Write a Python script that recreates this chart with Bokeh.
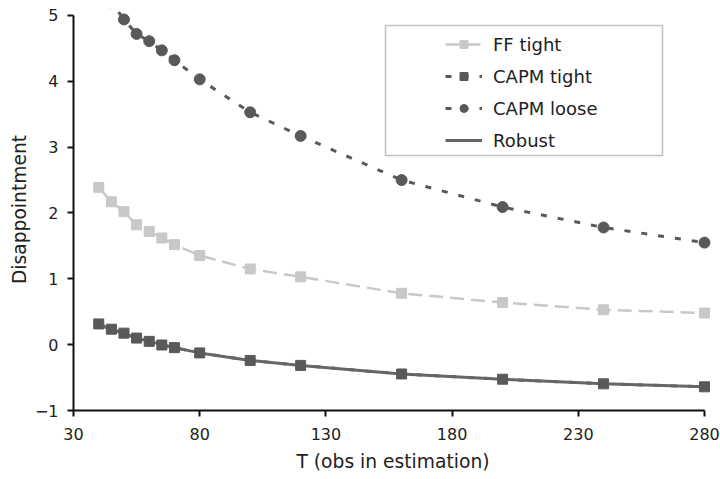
from bokeh.plotting import figure
from bokeh.models import Range1d, FixedTicker, Legend, LegendItem, BoxAnnotation
from bokeh.embed import file_html
from bokeh.resources import INLINE

# ---- data ----
T = [40, 45, 50, 55, 60, 65, 70, 80, 100, 120, 160, 200, 240, 280]
ff_tight = [2.39, 2.17, 2.02, 1.82, 1.72, 1.62, 1.52, 1.355, 1.15, 1.03, 0.78, 0.64, 0.53, 0.48]
capm_tight = [0.315, 0.235, 0.175, 0.10, 0.05, -0.005, -0.045, -0.125, -0.24, -0.315, -0.445, -0.525, -0.595, -0.64]
capm_loose = [5.47, 5.2, 4.94, 4.72, 4.61, 4.47, 4.32, 4.03, 3.53, 3.17, 2.50, 2.09, 1.78, 1.55]
robust = [0.31, 0.23, 0.17, 0.10, 0.05, 0.0, -0.045, -0.125, -0.24, -0.315, -0.445, -0.525, -0.595, -0.64]
x_ticks = [30, 80, 130, 180, 230, 280]
y_ticks = [-1, 0, 1, 2, 3, 4, 5]
series_names = ["FF tight", "CAPM tight", "CAPM loose", "Robust"]

FONT = "DejaVu Sans"
LIGHT = "#c8c8c8"
DARK = "#595959"
ROB = "#666666"
TXT = "#222222"

p = figure(width=720, height=479, x_range=Range1d(30, 283.17), y_range=Range1d(-1, 5.106),
           output_backend="svg", toolbar_location=None,
           min_border_left=73, min_border_right=8, min_border_top=8, min_border_bottom=69)
p.outline_line_color = None
p.xgrid.visible = False
p.ygrid.visible = False
p.background_fill_color = "white"
p.border_fill_color = "white"

for ax in (p.xaxis[0], p.yaxis[0]):
    ax.axis_line_color = "#111111"
    ax.axis_line_width = 2
    ax.major_tick_line_color = "#111111"
    ax.major_tick_line_width = 2
    ax.major_tick_out = 6
    ax.major_tick_in = 0
    ax.minor_tick_line_color = None
    ax.major_label_text_font = FONT
    ax.major_label_text_font_size = "16px"
    ax.major_label_text_color = TXT
    ax.axis_label_text_font = FONT
    ax.axis_label_text_font_size = "18.7px"
    ax.axis_label_text_font_style = "normal"
    ax.axis_label_text_color = TXT

p.xaxis.ticker = FixedTicker(ticks=x_ticks)
p.yaxis.ticker = FixedTicker(ticks=y_ticks)
p.xaxis.bounds = (x_ticks[0], x_ticks[-1])
p.yaxis.bounds = (y_ticks[0], y_ticks[-1])
p.yaxis.major_label_overrides = {-1: "\u22121"}
p.xaxis.major_label_standoff = 11
p.yaxis.major_label_standoff = 9
p.xaxis.axis_label_standoff = 8
p.yaxis.axis_label_standoff = 2
p.xaxis.axis_label = "T (obs in estimation)"
p.yaxis.axis_label = "Disappointment"

# ---- series ----
ff_line = p.line(T, ff_tight, line_color=LIGHT, line_width=2.5, line_dash="14 7")
ff_sq = p.scatter(T, ff_tight, marker="square", size=10, fill_color=LIGHT, line_color=LIGHT)

cl_line = p.line(T, capm_loose, line_color=DARK, line_width=3, line_dash="6 11")
cl_pt = p.scatter(T, capm_loose, marker="circle", size=11, fill_color=DARK, line_color=DARK)

ct_line = p.line(T, capm_tight, line_color=DARK, line_width=3, line_dash="6 11")
rb_line = p.line(T, robust, line_color=ROB, line_width=3)
ct_sq = p.scatter(T, capm_tight, marker="square", size=10, fill_color=DARK, line_color=DARK)

# ---- legend ----
box = BoxAnnotation(left=312, right=589, bottom=255, top=385,
                    left_units="screen", right_units="screen",
                    bottom_units="screen", top_units="screen",
                    fill_color="white", fill_alpha=1.0,
                    line_color="#333333", line_width=1.5)
p.add_layout(box)

legend = Legend(items=[
    LegendItem(label=series_names[0], renderers=[ff_line, ff_sq]),
    LegendItem(label=series_names[1], renderers=[ct_line, ct_sq]),
    LegendItem(label=series_names[2], renderers=[cl_line, cl_pt]),
    LegendItem(label=series_names[3], renderers=[rb_line]),
], location=(372, 254), border_line_color=None, background_fill_alpha=0,
    padding=3, spacing=0, margin=0, label_height=32, glyph_height=20, glyph_width=37,
    label_standoff=11, label_text_font=FONT, label_text_font_size="18px",
    label_text_color=TXT)
p.add_layout(legend)

open("out.html", "w").write(file_html(p, INLINE))
